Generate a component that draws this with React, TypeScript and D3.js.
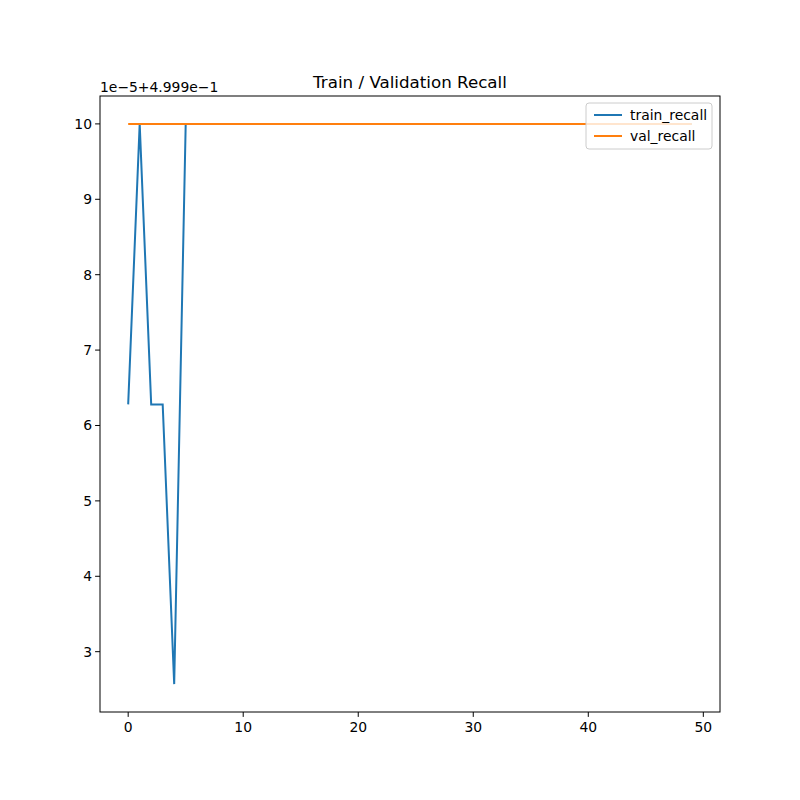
import React from 'react';
import * as d3 from 'd3';

// values shown in units of 1e-5 above 0.4999
const trainHead = [6.28, 10, 6.28, 6.28, 2.57, 10];
const epochs = d3.range(50);
const trainRecall = epochs.map(i => (i < trainHead.length ? trainHead[i] : 10));
const valRecall = epochs.map(() => 10);
const xTicks = [0, 10, 20, 30, 40, 50];
const yTicks = [3, 4, 5, 6, 7, 8, 9, 10];

const W = 800, H = 800;
const m = { left: 100, right: 720, top: 96, bottom: 712 };
const font = 'DejaVu Sans, sans-serif';

export default function App() {
  const x = d3.scaleLinear().domain([-2.45, 51.45]).range([m.left, m.right]);
  const y = d3.scaleLinear().domain([2.2, 10.37]).range([m.bottom, m.top]);
  const line = d3.line<number>().x((_, i) => x(i)).y(d => y(d));
  return (
    <svg width={W} height={H} style={{ display: 'block', margin: -8 }} fontFamily={font}>
      <rect width={W} height={H} fill="#fff" />
      <text x={(m.left + m.right) / 2} y={88} textAnchor="middle" fontSize={16.7}>Train / Validation Recall</text>
      <text x={m.left} y={92} fontSize={13.9}>1e−5+4.999e−1</text>
      <path d={line(trainRecall)!} fill="none" stroke="#1f77b4" strokeWidth={2} />
      <path d={line(valRecall)!} fill="none" stroke="#ff7f0e" strokeWidth={2} />
      <rect x={m.left} y={m.top} width={m.right - m.left} height={m.bottom - m.top} fill="none" stroke="#000" strokeWidth={1} />
      {xTicks.map(t => (
        <g key={t}>
          <line x1={x(t)} x2={x(t)} y1={m.bottom} y2={m.bottom + 4.9} stroke="#000" />
          <text x={x(t)} y={m.bottom + 20} textAnchor="middle" fontSize={13.9}>{t}</text>
        </g>
      ))}
      {yTicks.map(t => (
        <g key={t}>
          <line x1={m.left - 4.9} x2={m.left} y1={y(t)} y2={y(t)} stroke="#000" />
          <text x={m.left - 8} y={y(t) + 5} textAnchor="end" fontSize={13.9}>{t}</text>
        </g>
      ))}
      <g transform="translate(586,103)">
        <rect width={126} height={46} rx={3} fill="#fff" fillOpacity={0.8} stroke="#ccc" />
        {[['train_recall', '#1f77b4'], ['val_recall', '#ff7f0e']].map(([n, c], i) => (
          <g key={n} transform={`translate(0,${12 + i * 21})`}>
            <line x1={8} x2={36} y1={0} y2={0} stroke={c} strokeWidth={2} />
            <text x={44} y={5} fontSize={13.9}>{n}</text>
          </g>
        ))}
      </g>
    </svg>
  );
}
